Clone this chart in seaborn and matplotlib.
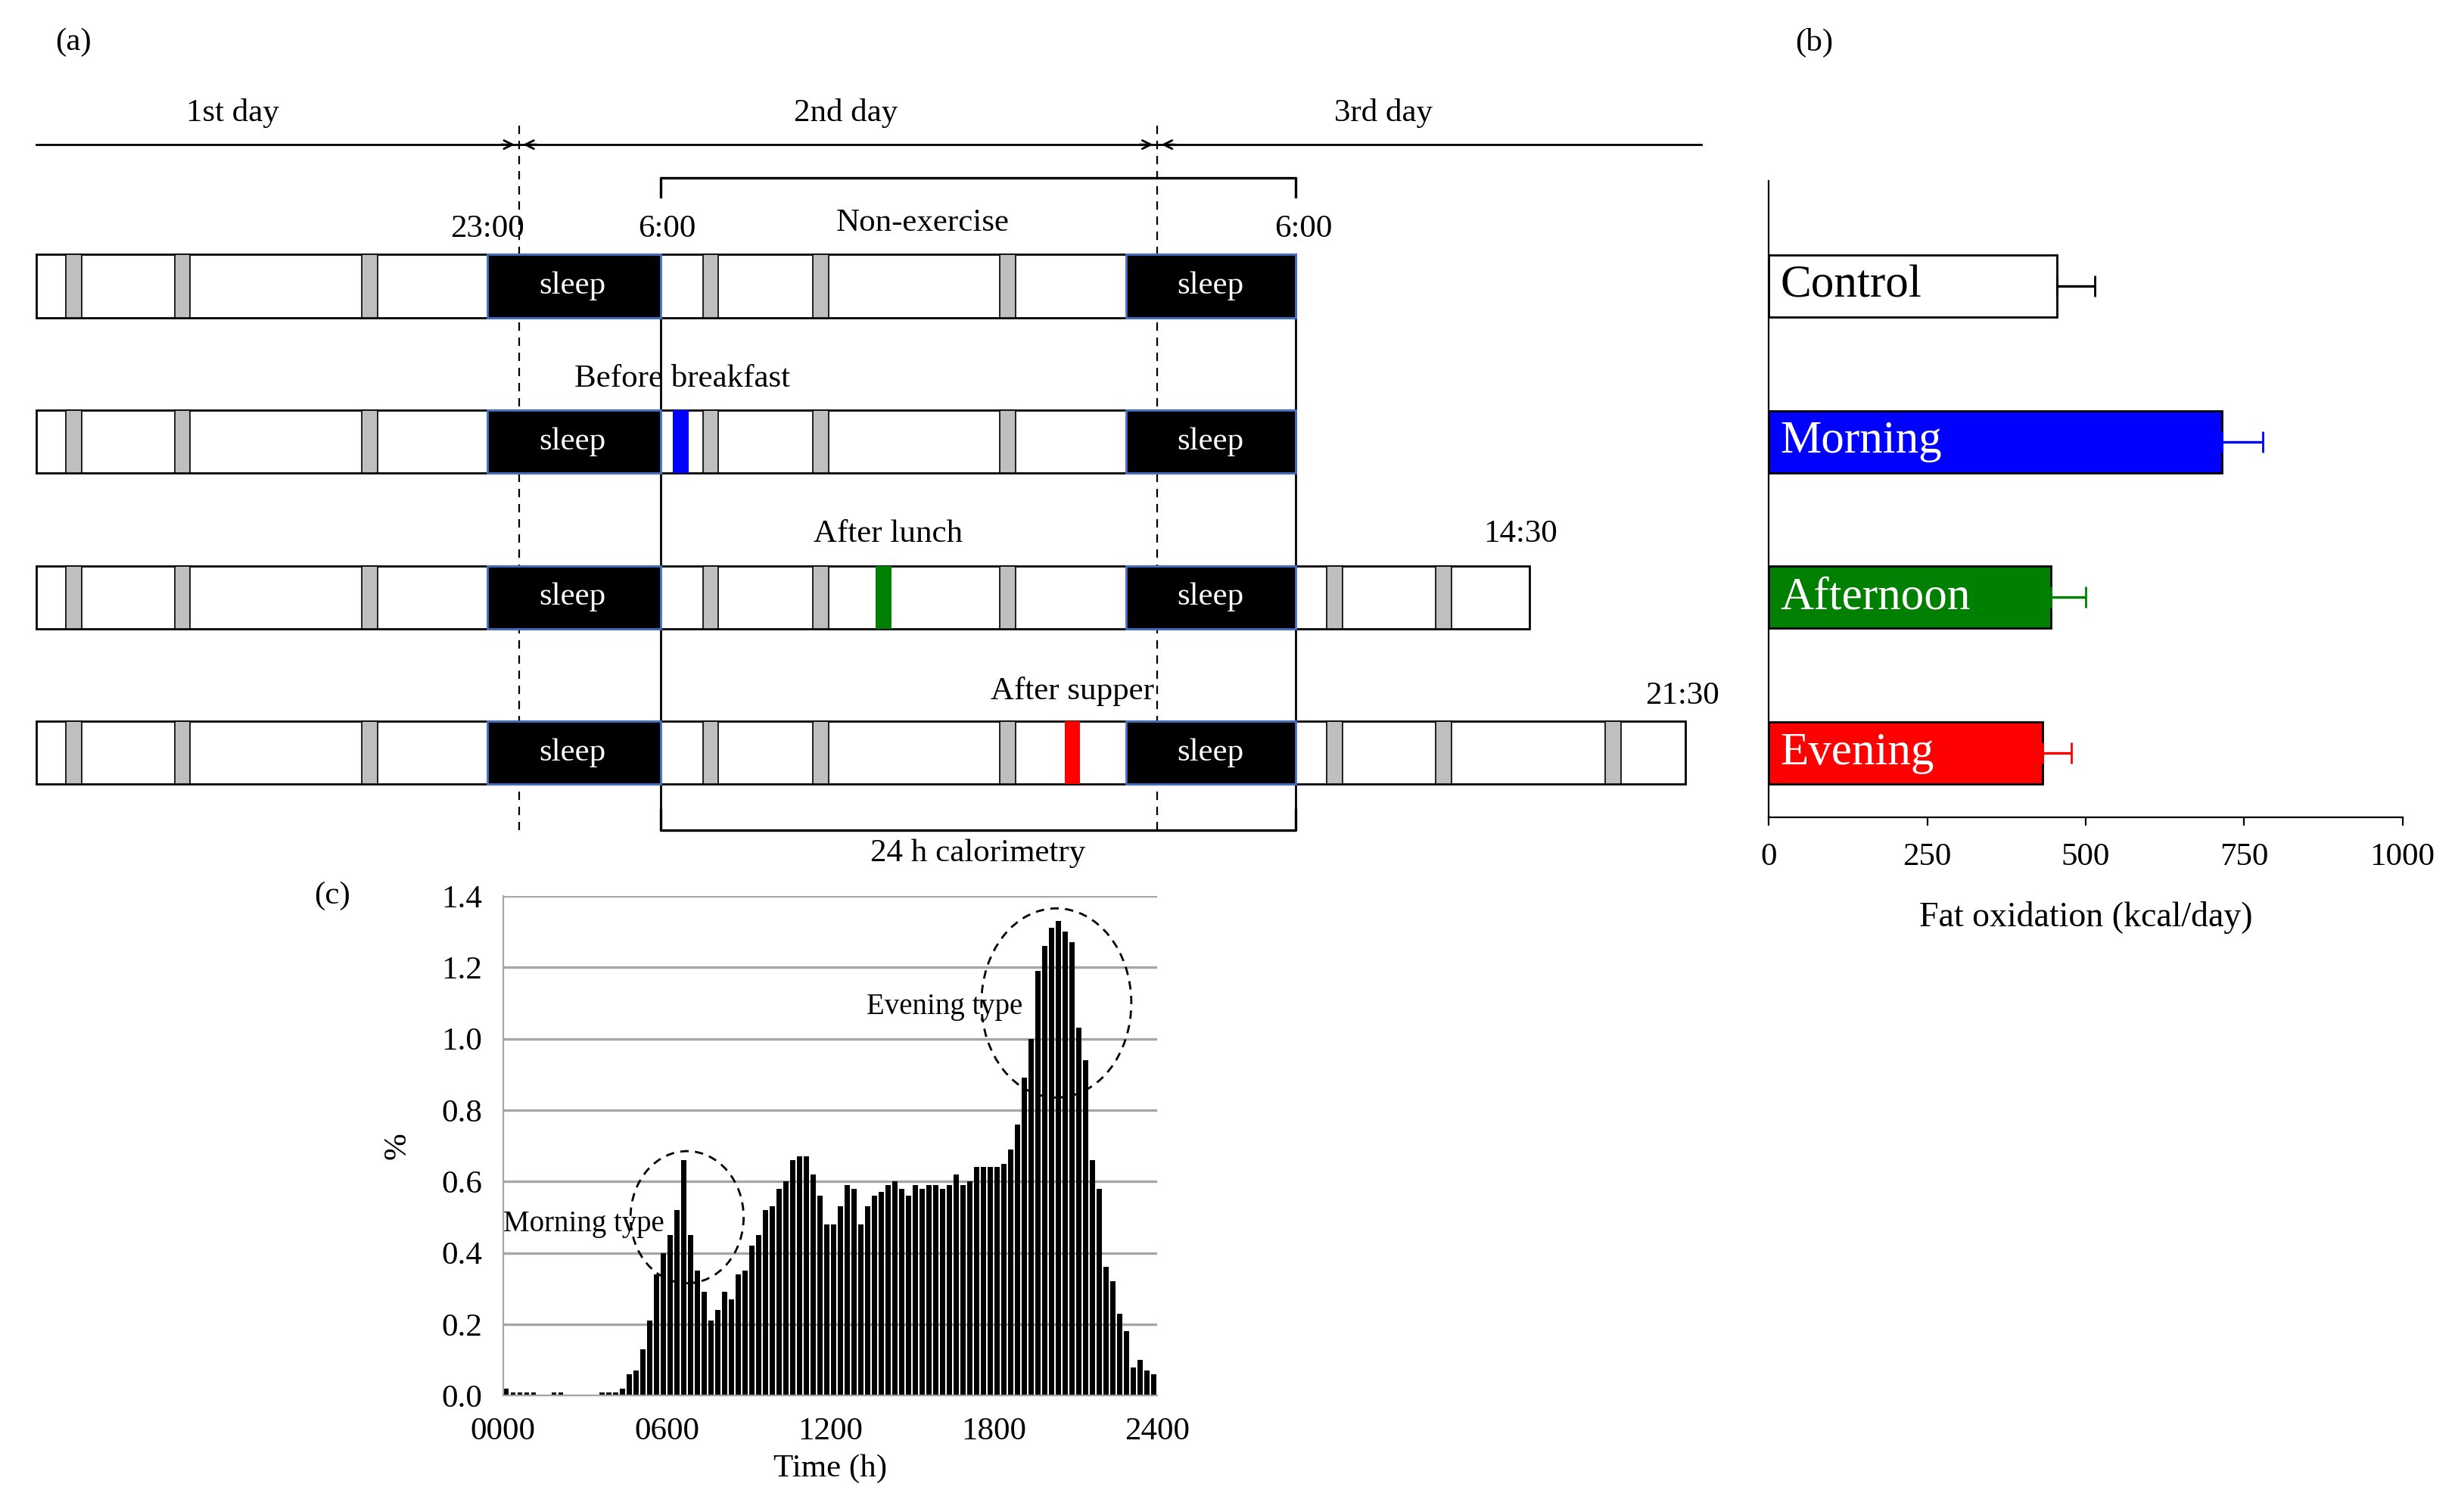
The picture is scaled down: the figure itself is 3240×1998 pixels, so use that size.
import numpy as np
import pandas as pd
import matplotlib
matplotlib.use("Agg")
import matplotlib.pyplot as plt
from matplotlib.patches import Rectangle, Ellipse
import seaborn as sns

plt.rcParams["font.family"] = "Liberation Serif"

# ---------- data ----------
conditions = ["Control", "Morning", "Afternoon", "Evening"]
fat_ox = [455, 715, 445, 432]
fat_ox_err = [60, 65, 55, 46]
bar_colors = ["white", "#0000ff", "#008000", "#ff0000"]
label_colors = ["black", "white", "white", "white"]

pct = [0.02, 0.01, 0.01, 0.01, 0.01, 0.0, 0.0, 0.01, 0.01, 0.0, 0.0, 0.0, 0.0, 0.0,
       0.01, 0.01, 0.01, 0.02, 0.06, 0.07, 0.13, 0.21, 0.34, 0.40, 0.45, 0.52, 0.66,
       0.45, 0.35, 0.29, 0.21, 0.24, 0.29, 0.27, 0.34, 0.35, 0.42, 0.45, 0.52, 0.53,
       0.58, 0.60, 0.66, 0.67, 0.67, 0.62, 0.56, 0.48, 0.48, 0.53, 0.59, 0.58, 0.48,
       0.53, 0.56, 0.57, 0.59, 0.60, 0.58, 0.56, 0.59, 0.58, 0.59, 0.59, 0.58, 0.59,
       0.62, 0.59, 0.60, 0.64, 0.64, 0.64, 0.64, 0.65, 0.69, 0.76, 0.89, 1.00, 1.19,
       1.26, 1.31, 1.33, 1.30, 1.27, 1.03, 0.94, 0.66, 0.58, 0.36, 0.32, 0.23, 0.18,
       0.08, 0.10, 0.07, 0.06]
hours = [i * 0.25 + 0.125 for i in range(len(pct))]
time_ticks = [0, 6, 12, 18, 24]
time_labels = ["0000", "0600", "1200", "1800", "2400"]

row_labels = ["Non-exercise", "Before breakfast", "After lunch", "After supper"]
exercise_colors = [None, "#0000ff", "#008000", "#ff0000"]

W, H = 1560, 962
fig = plt.figure(figsize=(3241 / 200, 1998 / 200), dpi=200)

# ---------- panel (a): schematic ----------
ov = fig.add_axes([0, 0, 1, 1])
ov.set_xlim(0, W)
ov.set_ylim(H, 0)
ov.axis("off")
fs = 15.5

ov.text(35, 27, "(a)", fontsize=fs, ha="left", va="center")
ov.text(1142, 27, "(b)", fontsize=fs, ha="left", va="center")
ov.text(200, 570, "(c)", fontsize=fs, ha="left", va="center")

ov.plot([23, 1082], [92, 92], color="black", lw=1)
for xd in [330, 736]:
    ov.annotate("", xy=(xd, 92), xytext=(xd - 14, 92),
                arrowprops=dict(arrowstyle="->", lw=1, color="black"))
    ov.annotate("", xy=(xd, 92), xytext=(xd + 14, 92),
                arrowprops=dict(arrowstyle="->", lw=1, color="black"))
    ov.plot([xd, xd], [80, 528], color="black", lw=0.8, ls=(0, (5, 4)))
for tx, t in [(148, "1st day"), (538, "2nd day"), (880, "3rd day")]:
    ov.text(tx, 72, t, fontsize=fs, ha="center", va="center")

ov.plot([420, 420, 824, 824], [125, 113, 113, 125], color="black", lw=1.2)
ov.plot([420, 420, 824, 824], [515, 528, 528, 515], color="black", lw=1.2)
ov.text(622, 543, "24 h calorimetry", fontsize=fs, ha="center", va="center")
for xd in [420, 824]:
    ov.plot([xd, xd], [200, 515], color="black", lw=1)

row_y = [182, 281, 380, 479]
row_end = [824, 824, 973, 1072]
meals_base = [43, 112, 231, 448, 518, 637]
meals_extra = [[], [], [845, 914], [845, 914, 1022]]
ex_x = [None, 428, 557, 677]
bh = 40
for r in range(4):
    y0 = row_y[r] - bh / 2
    ov.add_patch(Rectangle((23, y0), row_end[r] - 23, bh, fc="white", ec="black", lw=1, zorder=2))
    for mx in meals_base + meals_extra[r]:
        ov.add_patch(Rectangle((mx - 1, y0), 10, bh, fc="#bfbfbf", ec="black", lw=0.6, zorder=3))
    for sx in [310, 716]:
        ov.add_patch(Rectangle((sx, y0), 110 if sx == 310 else 108, bh, fc="black", ec="#4472c4", lw=1, zorder=4))
        ov.text(sx + 54, row_y[r], "sleep", color="white", fontsize=fs, ha="center", va="center", zorder=5)
    if exercise_colors[r]:
        ov.add_patch(Rectangle((ex_x[r], y0), 10, bh, fc=exercise_colors[r], ec="none", zorder=4))

ov.text(310, 146, "23:00", fontsize=fs, ha="center", va="center")
ov.text(424, 146, "6:00", fontsize=fs, ha="center", va="center")
ov.text(829, 146, "6:00", fontsize=fs, ha="center", va="center")
ov.text(587, 142, row_labels[0], fontsize=fs, ha="center", va="center")
ov.text(434, 241, row_labels[1], fontsize=fs, ha="center", va="center")
ov.text(565, 340, row_labels[2], fontsize=fs, ha="center", va="center")
ov.text(682, 440, row_labels[3], fontsize=fs, ha="center", va="center")
ov.text(967, 340, "14:30", fontsize=fs, ha="center", va="center")
ov.text(1070, 443, "21:30", fontsize=fs, ha="center", va="center")

# ---------- panel (b) ----------
axb = fig.add_axes([1125 / W, 1 - 520 / H, 403 / W, 405 / H])
dfb = pd.DataFrame({"cond": conditions, "fat": fat_ox})
sns.barplot(data=dfb, y="cond", x="fat", hue="cond", palette=bar_colors, legend=False,
            orient="h", width=0.40, saturation=1, edgecolor="black", linewidth=1, ax=axb)
for i in range(4):
    axb.errorbar(fat_ox[i], i, xerr=[[0], [fat_ox_err[i]]], fmt="none",
                 ecolor="black" if i == 0 else bar_colors[i], elinewidth=1.2, capsize=5)
    axb.text(18, i, conditions[i], color=label_colors[i], fontsize=22, ha="left", va="center")
axb.set_xlim(0, 1000)
axb.set_ylim(3.414, -0.677)
axb.set_xticks([0, 250, 500, 750, 1000])
axb.tick_params(axis="x", labelsize=fs, direction="out", length=4, pad=8)
axb.set_yticks([])
axb.set_ylabel("")
axb.set_xlabel("Fat oxidation (kcal/day)", fontsize=fs + 1, labelpad=14)
for sp in ["top", "right"]:
    axb.spines[sp].set_visible(False)

# ---------- panel (c) ----------
axc = fig.add_axes([320 / W, 1 - 888 / H, 416 / W, 318 / H])
dfc = pd.DataFrame({"h": hours, "p": pct})
axc.set_axisbelow(True)
axc.yaxis.grid(True, color="#a6a6a6", lw=1.2)
sns.barplot(data=dfc, x="h", y="p", native_scale=True, color="black", width=0.7,
            saturation=1, edgecolor="black", linewidth=0, ax=axc)
axc.set_xlim(0, 24)
axc.set_ylim(0, 1.4)
axc.set_yticks(np.arange(0, 1.41, 0.2))
axc.set_yticklabels([f"{v:.1f}" for v in np.arange(0, 1.41, 0.2)])
axc.set_xticks(time_ticks)
axc.set_xticklabels(time_labels)
axc.tick_params(axis="y", labelsize=fs, length=0, pad=10)
axc.tick_params(axis="x", labelsize=fs, length=0, pad=10)
axc.set_xlabel("Time (h)", fontsize=fs)
axc.set_ylabel("%", fontsize=fs, labelpad=14)
for sp in ["top", "right"]:
    axc.spines[sp].set_visible(False)
for sp in ["left", "bottom"]:
    axc.spines[sp].set_color("#a6a6a6")
axc.add_patch(Ellipse((6.75, 0.50), 4.15, 0.37, fill=False, ls=(0, (4, 3)), lw=1, ec="black"))
axc.add_patch(Ellipse((20.3, 1.10), 5.5, 0.53, fill=False, ls=(0, (4, 3)), lw=1, ec="black"))
axc.text(2.95, 0.48, "Morning type", fontsize=14, ha="center", va="center")
axc.text(16.2, 1.09, "Evening type", fontsize=14, ha="center", va="center")
axc.patch.set_alpha(0)

fig.savefig("out.png", dpi=200)
